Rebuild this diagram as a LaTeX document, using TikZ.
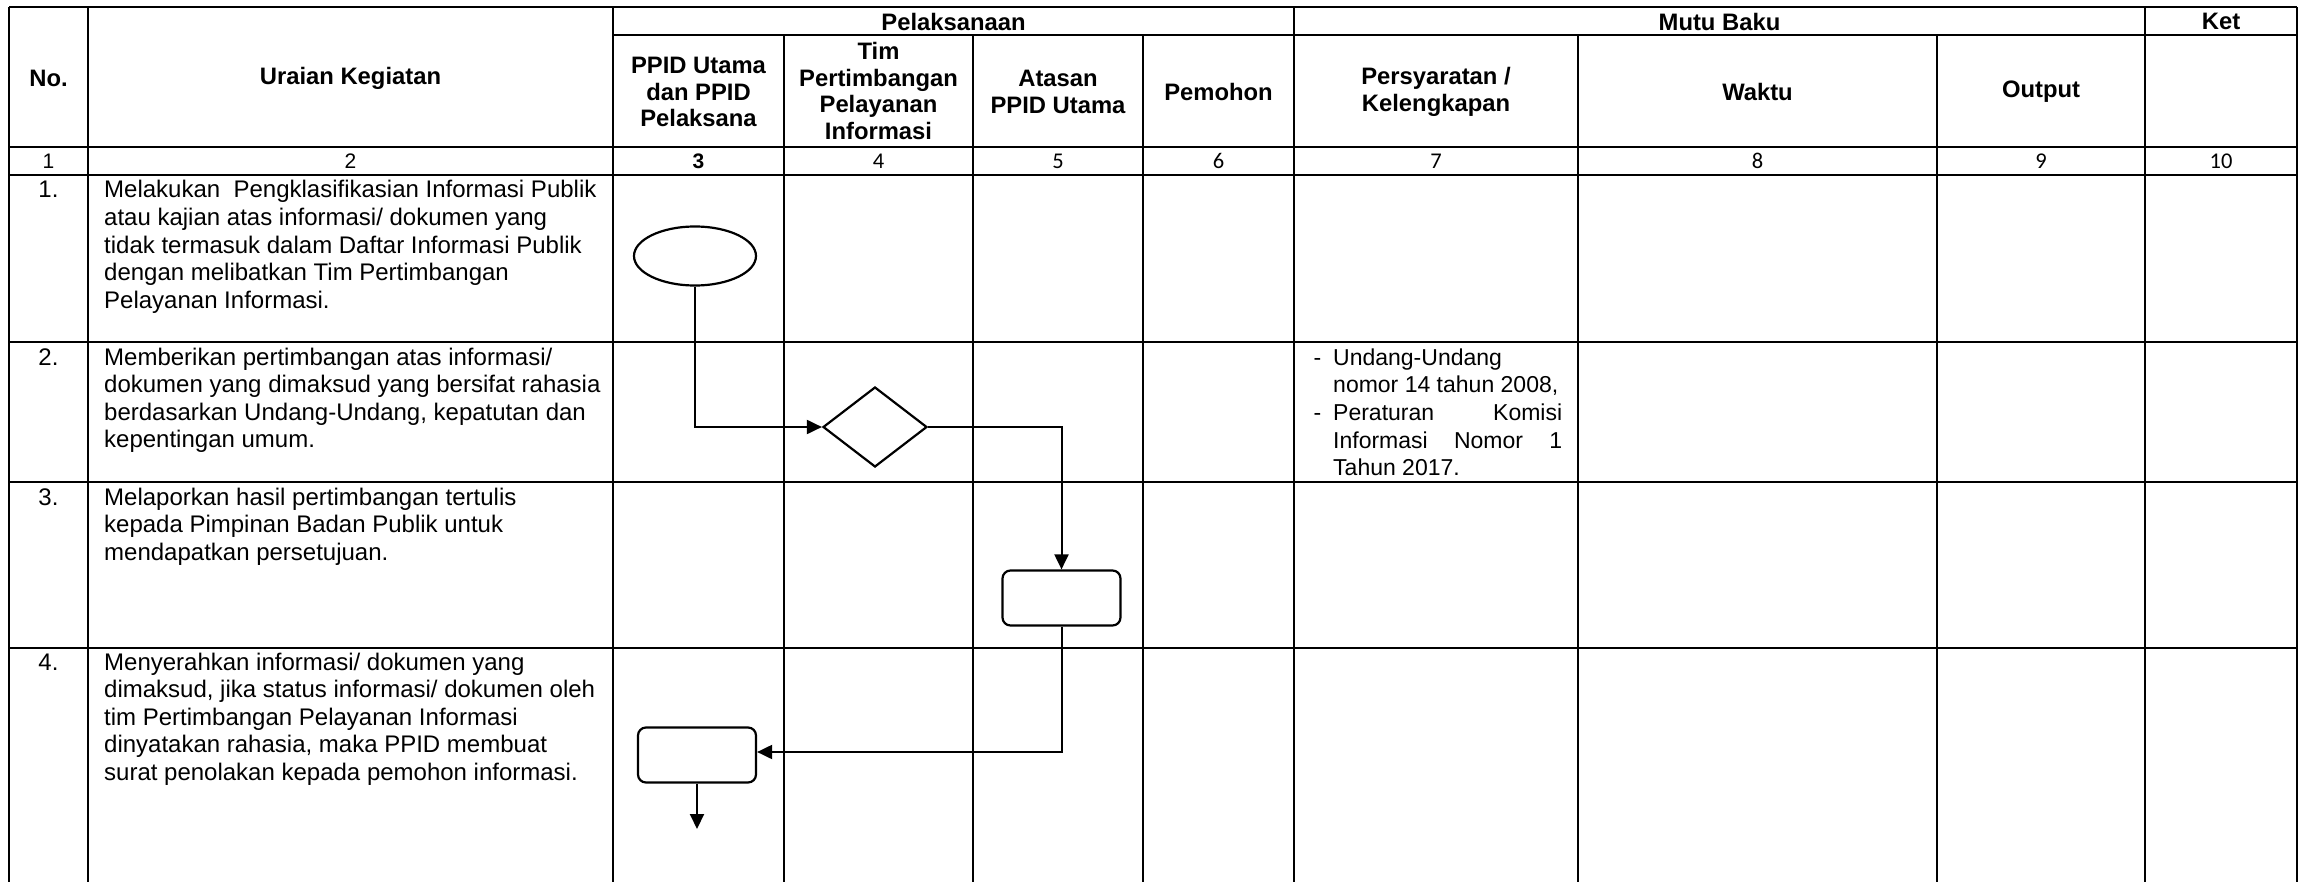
\documentclass[tikz,border=0pt]{standalone}
\usepackage{fontspec}
\setmainfont{Liberation Sans}
\newfontfamily\califont{Carlito}
\usetikzlibrary{arrows.meta,shapes.geometric}
\newcommand\myline[1]{\hbox{#1}}
\newcommand\myblock[2][27.6pt]{\vtop{\baselineskip=#1\relax\lineskiplimit=-100pt #2}}
\tikzset{
  hline/.style={line width=2.2pt},
  vline/.style={line width=1.2pt},
  vlinethick/.style={line width=1.9pt},
  hdr/.style={font=\bfseries\fontsize{23.8}{26.4}\selectfont, align=center, inner sep=0pt},
  body/.style={font=\fontsize{24}{27.6}\selectfont, inner sep=0pt, anchor=base west},
  numtxt/.style={font=\fontsize{24}{27.6}\selectfont, inner sep=0pt, anchor=base},
  colnum/.style={font=\fontsize{21}{24}\selectfont, inner sep=0pt, anchor=base},
  colnumc/.style={font=\califont\fontsize{22.5}{24}\selectfont, inner sep=0pt, anchor=base},
  shapeline/.style={draw, line width=2.2pt, inner sep=0pt},
  procbox/.style={shapeline, rectangle, rounded corners=8pt, minimum width=118pt, minimum height=55pt},
  arr/.style={line width=2pt, -{Triangle[length=15pt,width=14pt]}},
}
\begin{document}
\begin{tikzpicture}[x=1pt,y=-1pt]
\useasboundingbox (0,0) rectangle (2301,882);
\fill[white] (0,0) rectangle (2301,882);
% horizontal lines
\draw[hline] (9,7) -- (2297,7);
\draw[hline] (613,35) -- (2297,35);
\foreach \yy in {147,175,342,482,648} \draw[hline] (9,\yy) -- (2297,\yy);
% vertical lines
\foreach \xx in {9,88,613,1294,2145,2297} {
  \draw[vline] (\xx,7) -- (\xx,648);
  \draw[vlinethick] (\xx,648) -- (\xx,882);
}
\foreach \xx in {784,973,1143,1578,1937} {
  \draw[vline] (\xx,35) -- (\xx,648);
  \draw[vlinethick] (\xx,648) -- (\xx,882);
}
% headers
\node[hdr] (hno) at (48.5,78) {No.};
\node[hdr] (hur) at (350.5,78) {Uraian Kegiatan};
\node[hdr] (hpel) at (953.5,21.5) {Pelaksanaan};
\node[hdr] (hmutu) at (1719.5,21.5) {Mutu Baku};
\node[hdr] (hket) at (2221,21.5) {Ket};
\node[hdr] (hppid) at (698.5,92) {PPID Utama\\dan PPID\\Pelaksana};
\node[hdr] (htim) at (878.5,91) {Tim\\Pertimbangan\\Pelayanan\\Informasi};
\node[hdr] (hatas) at (1058,92) {Atasan\\PPID Utama};
\node[hdr] (hpem) at (1218.5,92) {Pemohon};
\node[hdr] (hpers) at (1436,92) {Persyaratan /\\Kelengkapan};
\node[hdr] (hwak) at (1757.5,92) {Waktu};
\node[hdr] (hout) at (2041,92) {Output};
% column numbers
\node[colnum] (n1) at (48.5,169) {1};
\node[colnum] (n2) at (350.5,169) {2};
\node[colnum, font=\bfseries\fontsize{21}{24}\selectfont] (n3) at (698.5,169) {3};
\node[colnumc] (n4) at (878.5,169) {4};
\node[colnumc] (n5) at (1058,169) {5};
\node[colnumc] (n6) at (1218.5,169) {6};
\node[colnumc] (n7) at (1436,169) {7};
\node[colnumc] (n8) at (1757.5,169) {8};
\node[colnumc] (n9) at (2041,169) {9};
\node[colnumc] (n10) at (2221,169) {10};
% row numbers
\node[numtxt] (r1) at (48.5,198) {1.};
\node[numtxt] (r2) at (48.5,365) {2.};
\node[numtxt] (r3) at (48.5,505) {3.};
\node[numtxt] (r4) at (48.5,670) {4.};
% row texts
\node[body] (t1) at (104,198) {\myblock{%
\myline{Melakukan~ Pengklasifikasian Informasi Publik}%
\myline{atau kajian atas informasi/ dokumen yang}%
\myline{tidak termasuk dalam Daftar Informasi Publik}%
\myline{dengan melibatkan Tim Pertimbangan}%
\myline{Pelayanan Informasi.}}};
\node[body] (t2) at (104,365) {\myblock{%
\myline{Memberikan pertimbangan atas informasi/}%
\myline{dokumen yang dimaksud yang bersifat rahasia}%
\myline{berdasarkan Undang-Undang, kepatutan dan}%
\myline{kepentingan umum.}}};
\node[body] (t3) at (104,505) {\myblock{%
\myline{Melaporkan hasil pertimbangan tertulis}%
\myline{kepada Pimpinan Badan Publik untuk}%
\myline{mendapatkan persetujuan.}}};
\node[body] (t4) at (104,670) {\myblock{%
\myline{Menyerahkan informasi/ dokumen yang}%
\myline{dimaksud, jika status informasi/ dokumen oleh}%
\myline{tim Pertimbangan Pelayanan Informasi}%
\myline{dinyatakan rahasia, maka PPID membuat}%
\myline{surat penolakan kepada pemohon informasi.}}};
% persyaratan
\node[body, font=\fontsize{23}{27.7}\selectfont] (p2) at (1333,365) {\myblock[27.7pt]{%
\hbox{\llap{-\hspace{12pt}}Undang-Undang}%
\hbox{nomor 14 tahun 2008,}%
\hbox to 229pt{\llap{-\hspace{12pt}}Peraturan\hfill Komisi}%
\hbox to 229pt{Informasi\hfill Nomor\hfill 1}%
\hbox{Tahun 2017.}}};
% flow shapes
\node[shapeline, ellipse, minimum width=122pt, minimum height=59pt] (start) at (695,256) {};
\node[shapeline, diamond, minimum width=104pt, minimum height=80pt] (dec) at (875,427) {};
\node[procbox] (box1) at (1061.5,598) {};
\node[procbox] (box2) at (697,755) {};
\coordinate (endpt) at (697,829);
% connectors
\draw[arr] (start.south) |- (dec.west);
\draw[arr] (dec.east) -| (box1.north);
\draw[arr] (box1.south) |- ([yshift=3pt]box2.east);
\draw[arr] (box2.south) -- (endpt);
\end{tikzpicture}
\end{document}
